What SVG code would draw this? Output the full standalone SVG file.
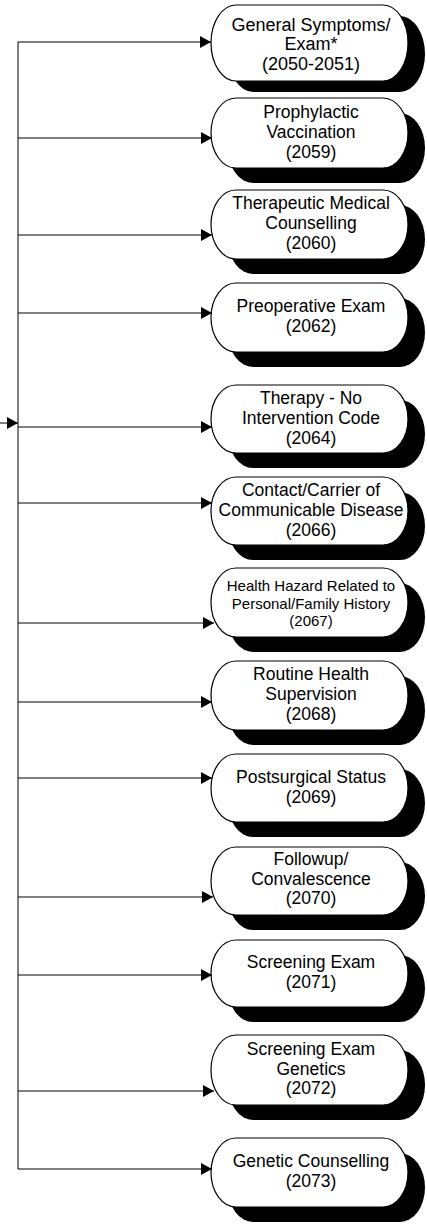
<svg xmlns="http://www.w3.org/2000/svg" width="427" height="1226" viewBox="0 0 427 1226">
<style>
.sh{fill:#000}
.bx{fill:#fff;stroke:#000;stroke-width:1.2}
.t{font-family:"Liberation Sans",Arial,sans-serif;font-size:17.5px;fill:#000;text-anchor:middle}
.s{font-size:15px}
.ln{stroke:#000;stroke-width:1;fill:none}
</style>
<defs>
<marker id="ah" markerWidth="12" markerHeight="12" refX="11" refY="6" orient="auto" markerUnits="userSpaceOnUse">
<path d="M0,0 L11,6 L0,12 Z" fill="#000"/>
</marker>
</defs>
<rect width="427" height="1226" fill="#fff"/>

<g id="n1"><rect class="sh" x="228" y="16" width="197" height="76" rx="25" ry="38"/><rect class="bx" x="211" y="5" width="197" height="76" rx="25" ry="38"/>
<text class="t" x="311" y="30.5" style="font-size:18px">General Symptoms/</text><text class="t" x="311" y="50" style="font-size:18px">Exam*</text><text class="t" x="311" y="69.5" style="font-size:18px">(2050-2051)</text></g>

<g id="n2"><rect class="sh" x="228" y="113" width="197" height="70" rx="25" ry="35"/><rect class="bx" x="211" y="98" width="197" height="70" rx="25" ry="35"/>
<text class="t" x="311" y="117.5">Prophylactic</text><text class="t" x="311" y="137.5">Vaccination</text><text class="t" x="311" y="157.5">(2059)</text></g>

<g id="n3"><rect class="sh" x="228" y="205" width="197" height="69" rx="25" ry="34.5"/><rect class="bx" x="211" y="190" width="197" height="69" rx="25" ry="34.5"/>
<text class="t" x="311" y="209">Therapeutic Medical</text><text class="t" x="311" y="229">Counselling</text><text class="t" x="311" y="249">(2060)</text></g>

<g id="n4"><rect class="sh" x="228" y="298" width="197" height="69" rx="25" ry="34.5"/><rect class="bx" x="211" y="283" width="197" height="69" rx="25" ry="34.5"/>
<text class="t" x="311" y="312">Preoperative Exam</text><text class="t" x="311" y="332">(2062)</text></g>

<g id="n5"><rect class="sh" x="228" y="400" width="197" height="68" rx="25" ry="34"/><rect class="bx" x="211" y="385" width="197" height="68" rx="25" ry="34"/>
<text class="t" x="311" y="403.5">Therapy - No</text><text class="t" x="311" y="423.5">Intervention Code</text><text class="t" x="311" y="443.5">(2064)</text></g>

<g id="n6"><rect class="sh" x="228" y="492" width="197" height="68" rx="25" ry="34"/><rect class="bx" x="211" y="477" width="197" height="68" rx="25" ry="34"/>
<text class="t" x="311" y="495.5">Contact/Carrier of</text><text class="t" x="311" y="515.5">Communicable Disease</text><text class="t" x="311" y="535.5">(2066)</text></g>

<g id="n7"><rect class="sh" x="228" y="583" width="197" height="69" rx="25" ry="34.5"/><rect class="bx" x="211" y="568" width="197" height="69" rx="25" ry="34.5"/>
<text class="t s" x="311" y="591">Health Hazard Related to</text><text class="t s" x="311" y="608.5">Personal/Family History</text><text class="t s" x="311" y="626">(2067)</text></g>

<g id="n8"><rect class="sh" x="228" y="676" width="197" height="69" rx="25" ry="34.5"/><rect class="bx" x="211" y="661" width="197" height="69" rx="25" ry="34.5"/>
<text class="t" x="311" y="680">Routine Health</text><text class="t" x="311" y="700">Supervision</text><text class="t" x="311" y="720">(2068)</text></g>

<g id="n9"><rect class="sh" x="228" y="769" width="197" height="68" rx="25" ry="34"/><rect class="bx" x="211" y="754" width="197" height="68" rx="25" ry="34"/>
<text class="t" x="311" y="782.5">Postsurgical Status</text><text class="t" x="311" y="802.5">(2069)</text></g>

<g id="n10"><rect class="sh" x="228" y="862" width="197" height="68" rx="25" ry="34"/><rect class="bx" x="211" y="847" width="197" height="68" rx="25" ry="34"/>
<text class="t" x="311" y="865">Followup/</text><text class="t" x="311" y="884.5">Convalescence</text><text class="t" x="311" y="903.5">(2070)</text></g>

<g id="n11"><rect class="sh" x="228" y="955" width="197" height="67" rx="25" ry="33.5"/><rect class="bx" x="211" y="940" width="197" height="67" rx="25" ry="33.5"/>
<text class="t" x="311" y="968">Screening Exam</text><text class="t" x="311" y="988">(2071)</text></g>

<g id="n12"><rect class="sh" x="228" y="1050" width="197" height="70" rx="25" ry="35"/><rect class="bx" x="211" y="1035" width="197" height="70" rx="25" ry="35"/>
<text class="t" x="311" y="1055">Screening Exam</text><text class="t" x="311" y="1075">Genetics</text><text class="t" x="311" y="1094">(2072)</text></g>

<g id="n13"><rect class="sh" x="228" y="1153" width="197" height="69" rx="25" ry="34.5"/><rect class="bx" x="211" y="1138" width="197" height="69" rx="25" ry="34.5"/>
<text class="t" x="311" y="1167">Genetic Counselling</text><text class="t" x="311" y="1187">(2073)</text></g>

<g id="connectors">
<line class="ln" x1="0" y1="423" x2="18" y2="423" marker-end="url(#ah)"/>
<line class="ln" x1="18" y1="42" x2="18" y2="1169"/>
<line class="ln" x1="18" y1="42" x2="211" y2="42" marker-end="url(#ah)"/>
<line class="ln" x1="18" y1="138" x2="212" y2="138" marker-end="url(#ah)"/>
<line class="ln" x1="18" y1="235" x2="212" y2="235" marker-end="url(#ah)"/>
<line class="ln" x1="18" y1="313" x2="212" y2="313" marker-end="url(#ah)"/>
<line class="ln" x1="18" y1="427" x2="212" y2="427" marker-end="url(#ah)"/>
<line class="ln" x1="18" y1="503" x2="212" y2="503" marker-end="url(#ah)"/>
<line class="ln" x1="18" y1="623" x2="214" y2="623" marker-end="url(#ah)"/>
<line class="ln" x1="18" y1="702" x2="212" y2="702" marker-end="url(#ah)"/>
<line class="ln" x1="18" y1="778" x2="212" y2="778" marker-end="url(#ah)"/>
<line class="ln" x1="18" y1="897" x2="213" y2="897" marker-end="url(#ah)"/>
<line class="ln" x1="18" y1="975" x2="212" y2="975" marker-end="url(#ah)"/>
<line class="ln" x1="18" y1="1091" x2="214" y2="1091" marker-end="url(#ah)"/>
<line class="ln" x1="18" y1="1169" x2="212" y2="1169" marker-end="url(#ah)"/>
</g>
</svg>
